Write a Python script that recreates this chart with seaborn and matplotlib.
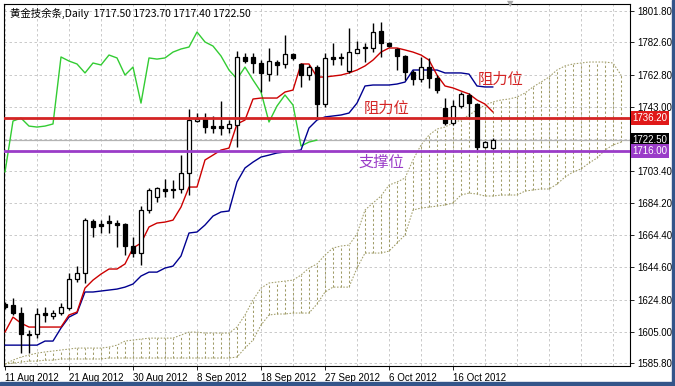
import numpy as np
import pandas as pd
import matplotlib
matplotlib.use("Agg")
import matplotlib.pyplot as plt
import seaborn as sns
from matplotlib.patches import Rectangle

# ---------------- data ----------------
opens = [1621.9, 1621.3, 1616.4, 1603.6, 1603.6, 1616.4, 1614.6, 1616.4, 1619.5, 1637.3,
         1641.0, 1672.9, 1671.1, 1672.9, 1671.7, 1671.1, 1657.6, 1653.3, 1679.7, 1687.7,
         1692.6, 1692.6, 1692.6, 1702.4, 1734.3, 1735.5, 1731.2, 1731.2, 1730.0, 1731.8,
         1773.6, 1773.6, 1769.9, 1763.1, 1770.5, 1769.3, 1775.4, 1769.3, 1762.5, 1767.4,
         1744.7, 1773.6, 1773.0, 1765.0, 1776.0, 1779.1, 1779.1, 1789.5, 1782.2, 1778.5,
         1774.2, 1764.4, 1760.1, 1767.4, 1760.7, 1742.3, 1733.1, 1743.5, 1750.3, 1744.7,
         1718.3, 1717.5]
highs = [1623.1, 1625.6, 1620.1, 1606.1, 1619.5, 1620.1, 1618.3, 1622.6, 1641.0, 1645.3,
         1674.8, 1674.1, 1673.5, 1676.6, 1673.5, 1671.7, 1663.1, 1682.1, 1693.2, 1693.8,
         1698.7, 1698.1, 1713.4, 1741.7, 1739.2, 1739.2, 1737.4, 1746.6, 1734.9, 1777.3,
         1776.0, 1776.0, 1771.7, 1779.1, 1771.7, 1787.1, 1776.0, 1769.9, 1768.7, 1768.7,
         1776.0, 1782.2, 1776.0, 1791.4, 1783.4, 1782.2, 1794.4, 1795.0, 1782.8, 1779.1,
         1774.8, 1765.6, 1773.6, 1773.0, 1762.5, 1748.4, 1747.2, 1752.1, 1751.5, 1745.4,
         1722.0, 1723.7]
lows = [1618.9, 1615.2, 1591.9, 1591.9, 1601.1, 1611.0, 1612.8, 1615.2, 1618.3, 1635.5,
        1634.9, 1663.1, 1665.5, 1665.5, 1657.0, 1652.1, 1650.8, 1645.9, 1677.8, 1684.6,
        1687.7, 1687.0, 1690.1, 1688.9, 1733.7, 1726.9, 1726.9, 1725.7, 1726.9, 1718.3,
        1769.9, 1763.8, 1752.1, 1758.8, 1762.5, 1766.8, 1771.7, 1755.2, 1759.5, 1736.8,
        1742.9, 1768.7, 1768.7, 1763.8, 1775.8, 1770.5, 1776.6, 1773.6, 1779.7, 1765.6,
        1759.5, 1756.4, 1758.2, 1754.5, 1751.5, 1731.8, 1731.8, 1742.3, 1736.8, 1716.5,
        1717.7, 1717.4]
closes = [1620.1, 1616.4, 1603.6, 1603.3, 1615.9, 1615.2, 1616.4, 1620.1, 1637.3, 1641.0,
          1673.5, 1669.3, 1669.9, 1671.7, 1670.5, 1657.6, 1653.3, 1679.7, 1692.0, 1693.2,
          1691.3, 1692.0, 1702.4, 1734.9, 1735.5, 1730.6, 1730.0, 1730.0, 1732.5, 1773.6,
          1771.1, 1769.9, 1763.8, 1771.1, 1768.7, 1775.4, 1773.0, 1762.5, 1767.4, 1744.7,
          1773.0, 1772.3, 1772.8, 1776.6, 1778.5, 1778.9, 1788.9, 1782.2, 1780.3, 1774.2,
          1764.4, 1760.1, 1767.4, 1760.7, 1753.3, 1733.1, 1743.5, 1750.9, 1745.4, 1718.3,
          1721.4, 1722.5]

tenkan = [1604.8, 1614.0, 1610.3, 1607.9, 1607.9, 1607.9, 1607.9, 1607.9, 1615.3, 1617.1,
          1631.8, 1636.7, 1640.4, 1643.5, 1643.5, 1646.6, 1656.4, 1659.4, 1669.3, 1671.7,
          1672.3, 1673.5, 1681.5, 1693.8, 1693.8, 1710.4, 1713.4, 1716.5, 1717.7, 1732.5,
          1734.9, 1747.8, 1748.4, 1748.4, 1748.4, 1752.1, 1753.3, 1769.3, 1769.3, 1761.3,
          1761.3, 1761.9, 1762.5, 1763.8, 1765.6, 1768.1, 1771.7, 1776.6, 1779.1, 1779.1,
          1777.9, 1776.6, 1774.8, 1771.7, 1762.5, 1755.8, 1754.6, 1752.7, 1750.9, 1747.2,
          1744.7, 1739.8]
kijun = [1596.8, 1596.8, 1596.8, 1596.8, 1596.8, 1599.3, 1599.3, 1607.3, 1614.0, 1616.5,
         1629.4, 1629.4, 1630.0, 1630.6, 1631.2, 1632.4, 1634.3, 1639.2, 1641.6, 1641.6,
         1644.1, 1645.3, 1651.5, 1665.6, 1666.2, 1670.5, 1676.0, 1678.5, 1679.1, 1696.9,
         1705.5, 1709.1, 1712.2, 1713.4, 1714.7, 1715.3, 1715.9, 1716.5, 1730.0, 1734.9,
         1736.8, 1737.4, 1738.0, 1739.2, 1745.3, 1755.8, 1756.4, 1756.4, 1756.4, 1757.0,
         1758.2, 1765.6, 1765.6, 1765.6, 1765.6, 1763.8, 1763.8, 1763.8, 1763.1, 1755.8,
         1755.2, 1755.2]
chikou = [1703.0, 1734.3, 1736.1, 1731.2, 1730.6, 1731.2, 1732.5, 1773.6, 1771.1, 1769.3,
          1763.8, 1769.9, 1768.7, 1774.8, 1773.0, 1762.5, 1767.4, 1745.3, 1773.0, 1772.3,
          1773.0, 1776.6, 1778.5, 1779.7, 1788.9, 1782.8, 1780.3, 1774.2, 1765.6, 1760.1,
          1767.4, 1759.5, 1752.1, 1733.7, 1743.5, 1750.3, 1744.1, 1719.0, 1721.4, 1722.6]
cloud_top = [1585.2, 1587.6, 1589.5, 1590.7, 1591.9, 1592.6, 1593.2, 1593.8, 1594.4, 1595.0,
             1595.0, 1595.0, 1595.0, 1595.6, 1596.8, 1599.3, 1599.9, 1600.5, 1601.1, 1601.1,
             1601.1, 1601.1, 1603.0, 1604.8, 1604.8, 1604.2, 1604.2, 1604.2, 1604.2, 1607.9,
             1615.3, 1624.5, 1631.8, 1634.9, 1635.5, 1636.1, 1636.7, 1639.8, 1644.1, 1646.6,
             1652.1, 1656.4, 1657.6, 1658.2, 1665.0, 1679.7, 1684.0, 1688.3, 1695.0, 1696.9,
             1699.3, 1710.4, 1719.6, 1725.7, 1729.4, 1730.6, 1733.1, 1734.9, 1738.0, 1741.1,
             1744.1, 1746.0, 1747.2, 1747.8, 1749.0, 1751.5, 1755.2, 1758.2, 1761.3, 1765.6,
             1768.1, 1769.3, 1769.9, 1770.5, 1770.5, 1770.5, 1769.9, 1762.5]
cloud_bot = [1585.2, 1585.8, 1586.4, 1587.0, 1587.0, 1587.6, 1587.6, 1588.3, 1588.3, 1588.3,
             1588.3, 1588.3, 1588.3, 1588.9, 1588.9, 1588.9, 1588.9, 1588.9, 1588.9, 1588.9,
             1588.9, 1588.9, 1588.9, 1588.9, 1588.9, 1588.9, 1588.9, 1588.9, 1588.9, 1589.5,
             1595.0, 1599.9, 1609.1, 1615.3, 1615.9, 1615.9, 1616.5, 1616.5, 1616.5, 1622.0,
             1629.4, 1632.4, 1632.4, 1632.4, 1644.1, 1653.3, 1653.3, 1653.3, 1654.5, 1659.4,
             1664.4, 1679.7, 1680.9, 1681.5, 1682.1, 1682.8, 1684.0, 1688.9, 1690.1, 1689.5,
             1688.3, 1688.3, 1688.9, 1688.9, 1688.9, 1691.3, 1692.0, 1692.6, 1692.6, 1695.6,
             1699.9, 1703.0, 1704.9, 1708.5, 1711.6, 1716.5, 1719.6, 1721.4]

resistance = 1736.20
support = 1716.00
bid = 1722.50
price_ticks = [1801.80, 1782.60, 1762.80, 1743.00, 1723.20, 1703.40, 1684.20,
               1664.40, 1644.60, 1624.80, 1605.00, 1585.80]
date_labels = ["11 Aug 2012", "21 Aug 2012", "30 Aug 2012", "8 Sep 2012",
               "18 Sep 2012", "27 Sep 2012", "6 Oct 2012", "16 Oct 2012"]
title = "黄金技余条,Daily  1717.50 1723.70 1717.40 1722.50"

# ---------------- figure ----------------
sns.set_theme(style="white")
plt.rcParams["font.family"] = ["Liberation Sans", "DejaVu Sans", "Noto Sans CJK SC"]
cjk = ["Noto Sans CJK SC", "DejaVu Sans"]

fig = plt.figure(figsize=(6.75, 3.86), dpi=100)
fig.patch.set_facecolor("white")
ax = fig.add_axes([4 / 675, 20 / 386, 626 / 675, 362 / 386])
ax.set_facecolor("white")

n = len(opens)
idx = np.arange(n)
ci = np.arange(len(cloud_top))
gi = np.arange(len(chikou))

# grid / axes
ax.set_xlim(-0.125, 78.125)
ax.set_ylim(1584.0, 1806.1)
ax.set_xticks(np.arange(0, 57, 8))
ax.set_xticks(np.arange(0, 78, 4), minor=True)
ax.set_xticklabels(date_labels, ha="left")
ax.set_yticks(price_ticks)
ax.set_yticklabels(["" if abs(p - 1723.2) < 0.01 else f"{p:.2f}" for p in price_ticks])
ax.yaxis.tick_right()
ax.grid(True, which="both", color="#c2c2c2", linestyle=(0, (3, 3)), linewidth=0.6)
ax.tick_params(axis="y", which="major", direction="out", length=3, width=0.6,
               labelsize=7, pad=2, colors="black", right=True, left=False)
ax.tick_params(axis="x", which="major", direction="out", length=3, width=0.6,
               labelsize=7, pad=2, colors="black", bottom=True)
ax.tick_params(axis="x", which="minor", length=0)
for s in ax.spines.values():
    s.set_color("black")
    s.set_linewidth(0.8)
ax.set_axisbelow(True)

# Ichimoku cloud (vertical dotted hatch + dotted boundaries)
kumo_c = "#a09c68"
ax.vlines(ci, cloud_bot, cloud_top, colors=kumo_c, linestyles=(0, (2.2, 2.2)),
          linewidth=0.75, zorder=1)
sns.lineplot(x=ci, y=cloud_top, ax=ax, color=kumo_c, linewidth=0.75,
             linestyle=(0, (1.5, 1.5)), zorder=1, sort=False)
sns.lineplot(x=ci, y=cloud_bot, ax=ax, color=kumo_c, linewidth=0.75,
             linestyle=(0, (1.5, 1.5)), zorder=1, sort=False)

# bid line
ax.axhline(bid, color="#b4b4b4", linewidth=0.9, zorder=2)

# indicator lines
sns.lineplot(x=gi, y=chikou, ax=ax, color="#33cc33", linewidth=1.0, zorder=3, sort=False)
sns.lineplot(x=idx, y=kijun, ax=ax, color="#000090", linewidth=1.0, zorder=3, sort=False)
sns.lineplot(x=idx, y=tenkan, ax=ax, color="#cc0000", linewidth=1.0, zorder=3, sort=False)

# candles
o = np.array(opens); c = np.array(closes)
h = np.array(highs); l = np.array(lows)
up = c >= o
ax.vlines(idx, l, h, colors="black", linewidth=1.0, zorder=4)
body_lo = np.minimum(o, c)
body_h = np.maximum(np.abs(c - o), 0.6)
ax.bar(idx[up], body_h[up], bottom=body_lo[up], width=0.62, color="white",
       edgecolor="black", linewidth=0.9, zorder=5)
ax.bar(idx[~up], body_h[~up], bottom=body_lo[~up], width=0.62, color="black",
       edgecolor="black", linewidth=0.9, zorder=5)

# support / resistance lines
ax.axhline(resistance, color="#d42424", linewidth=2.0, zorder=6)
ax.axhline(support, color="#9a3cc8", linewidth=2.0, zorder=6)

# annotations
ax.text(44.8, 1742.3, "阻力位", color="#d42424", fontsize=11, family=cjk,
        ha="left", va="center", zorder=7)
ax.text(59.1, 1759.6, "阻力位", color="#d42424", fontsize=11, family=cjk,
        ha="left", va="center", zorder=7)
ax.text(44.2, 1709.0, "支撑位", color="#9a3cc8", fontsize=11, family=cjk,
        ha="left", va="center", zorder=7)

# title
ax.text(0.0096, 0.988, title, transform=ax.transAxes, fontsize=7.5,
        family=["Noto Sans CJK SC", "Liberation Sans"],
        ha="left", va="top", color="black", zorder=8)

# chart shift marker
ax.text(0.808, 1.0, "▼", transform=ax.transAxes, fontsize=6, color="#a8a8a8",
        family="DejaVu Sans", ha="center", va="center", zorder=8)

# right-axis price boxes
ytr = ax.get_yaxis_transform()
for val, fc in [(resistance, "#e01818"), (bid, "black"), (support, "#9a3cc8")]:
    ax.text(1.004, val, f"{val:.2f}", transform=ytr, fontsize=7, color="white",
            ha="left", va="center", zorder=9, clip_on=False,
            bbox=dict(boxstyle="square,pad=0.2", fc=fc, ec="none"))

# window border
fig.patches.append(Rectangle((0, 0), 1, 4 / 386, transform=fig.transFigure,
                             color="#34558a", zorder=10))
fig.patches.append(Rectangle((672 / 675, 0), 3 / 675, 1, transform=fig.transFigure,
                             color="#34558a", zorder=10))

fig.savefig("out.png", dpi=100)
